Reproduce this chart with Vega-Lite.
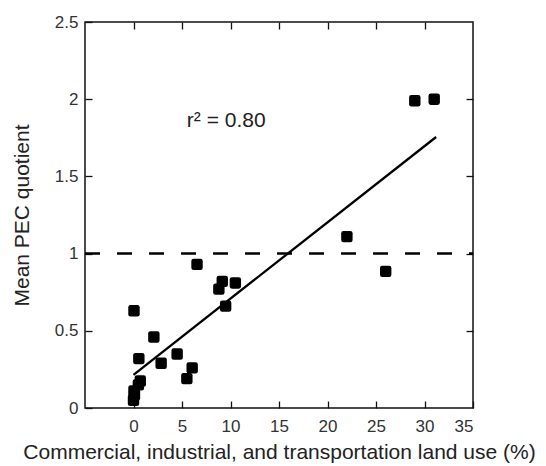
{
  "$schema": "https://vega.github.io/schema/vega-lite/v6.json",
  "width": 388,
  "height": 386,
  "autosize": "none",
  "padding": {"left": 85, "top": 22, "right": 73, "bottom": 58},
  "background": "white",
  "config": {
    "view": {"stroke": "#111", "strokeWidth": 1.5},
    "font": "Liberation Sans",
    "axis": {"grid": false, "domain": false, "labelFont": "Liberation Sans", "titleFont": "Liberation Sans", "labelColor": "#333", "titleColor": "#222", "titleFontWeight": "normal", "tickColor": "#111", "tickWidth": 1.3}
  },
  "datasets": {
    "pts": [
      {"x": 0.0, "y": 0.05},
      {"x": 0.1, "y": 0.085},
      {"x": 0.05, "y": 0.11},
      {"x": 0.5, "y": 0.15},
      {"x": 0.7, "y": 0.175},
      {"x": 0.05, "y": 0.63},
      {"x": 0.55, "y": 0.32},
      {"x": 2.1, "y": 0.46},
      {"x": 2.85, "y": 0.29},
      {"x": 4.5, "y": 0.35},
      {"x": 5.5, "y": 0.19},
      {"x": 6.05, "y": 0.26},
      {"x": 6.55, "y": 0.93},
      {"x": 8.8, "y": 0.77},
      {"x": 9.15, "y": 0.82},
      {"x": 9.5, "y": 0.66},
      {"x": 10.5, "y": 0.81},
      {"x": 22.0, "y": 1.11},
      {"x": 26.0, "y": 0.885},
      {"x": 29.0, "y": 1.99},
      {"x": 31.0, "y": 2.0}
    ],
    "fit": [
      {"x": 0.0, "y": 0.215},
      {"x": 31.2, "y": 1.755}
    ],
    "ref": [
      {"x": -5, "y": 1},
      {"x": 35, "y": 1}
    ],
    "ann": [
      {"x": 5.5, "y": 1.86, "label": "r² = 0.80"}
    ]
  },
  "layer": [
    {
      "data": {"name": "pts"},
      "mark": {"type": "point", "filled": true, "size": 130, "color": "#000", "opacity": 1,
        "shape": "M -0.6,-1 L 0.6,-1 Q 1,-1 1,-0.6 L 1,0.6 Q 1,1 0.6,1 L -0.6,1 Q -1,1 -1,0.6 L -1,-0.6 Q -1,-1 -0.6,-1 Z"},
      "encoding": {
        "x": {"field": "x", "type": "quantitative", "scale": {"domain": [-5, 35], "nice": false, "zero": false},
          "axis": {"orient": "bottom", "values": [0, 5, 10, 15, 20, 25, 30, 35], "tickSize": -7, "labelPadding": 17, "labelFontSize": 17, "title": "Commercial, industrial, and transportation land use (%)", "titleFontSize": 21, "titlePadding": 7}},
        "y": {"field": "y", "type": "quantitative", "scale": {"domain": [0, 2.5], "nice": false},
          "axis": {"orient": "left", "values": [0, 0.5, 1, 1.5, 2, 2.5], "format": "~g", "tickSize": -7, "labelPadding": 14, "labelFontSize": 17, "title": "Mean PEC quotient", "titleFontSize": 21, "titlePadding": 22}}
      }
    },
    {
      "data": {"name": "fit"},
      "mark": {"type": "line", "color": "#000", "strokeWidth": 2.3},
      "encoding": {
        "x": {"field": "x", "type": "quantitative", "scale": {"domain": [-5, 35], "nice": false, "zero": false},
          "axis": {"orient": "top", "values": [0, 5, 10, 15, 20, 25, 30], "tickSize": -7, "labels": false, "title": null}},
        "y": {"field": "y", "type": "quantitative", "scale": {"domain": [0, 2.5], "nice": false},
          "axis": {"orient": "right", "values": [0.5, 1, 1.5, 2], "tickSize": -7, "labels": false, "title": null}}
      }
    },
    {
      "data": {"name": "ref"},
      "mark": {"type": "line", "color": "#000", "strokeWidth": 2.5, "strokeDash": [15, 17]},
      "encoding": {
        "x": {"field": "x", "type": "quantitative", "axis": null, "scale": {"domain": [-5, 35], "nice": false, "zero": false}},
        "y": {"field": "y", "type": "quantitative", "axis": null, "scale": {"domain": [0, 2.5], "nice": false}}
      }
    },
    {
      "data": {"name": "ann"},
      "mark": {"type": "text", "align": "left", "baseline": "middle", "fontSize": 21, "color": "#222", "font": "Liberation Sans"},
      "encoding": {
        "x": {"field": "x", "type": "quantitative", "axis": null, "scale": {"domain": [-5, 35], "nice": false, "zero": false}},
        "y": {"field": "y", "type": "quantitative", "axis": null, "scale": {"domain": [0, 2.5], "nice": false}},
        "text": {"field": "label"}
      }
    }
  ],
  "resolve": {"scale": {"x": "independent", "y": "independent"}}
}
